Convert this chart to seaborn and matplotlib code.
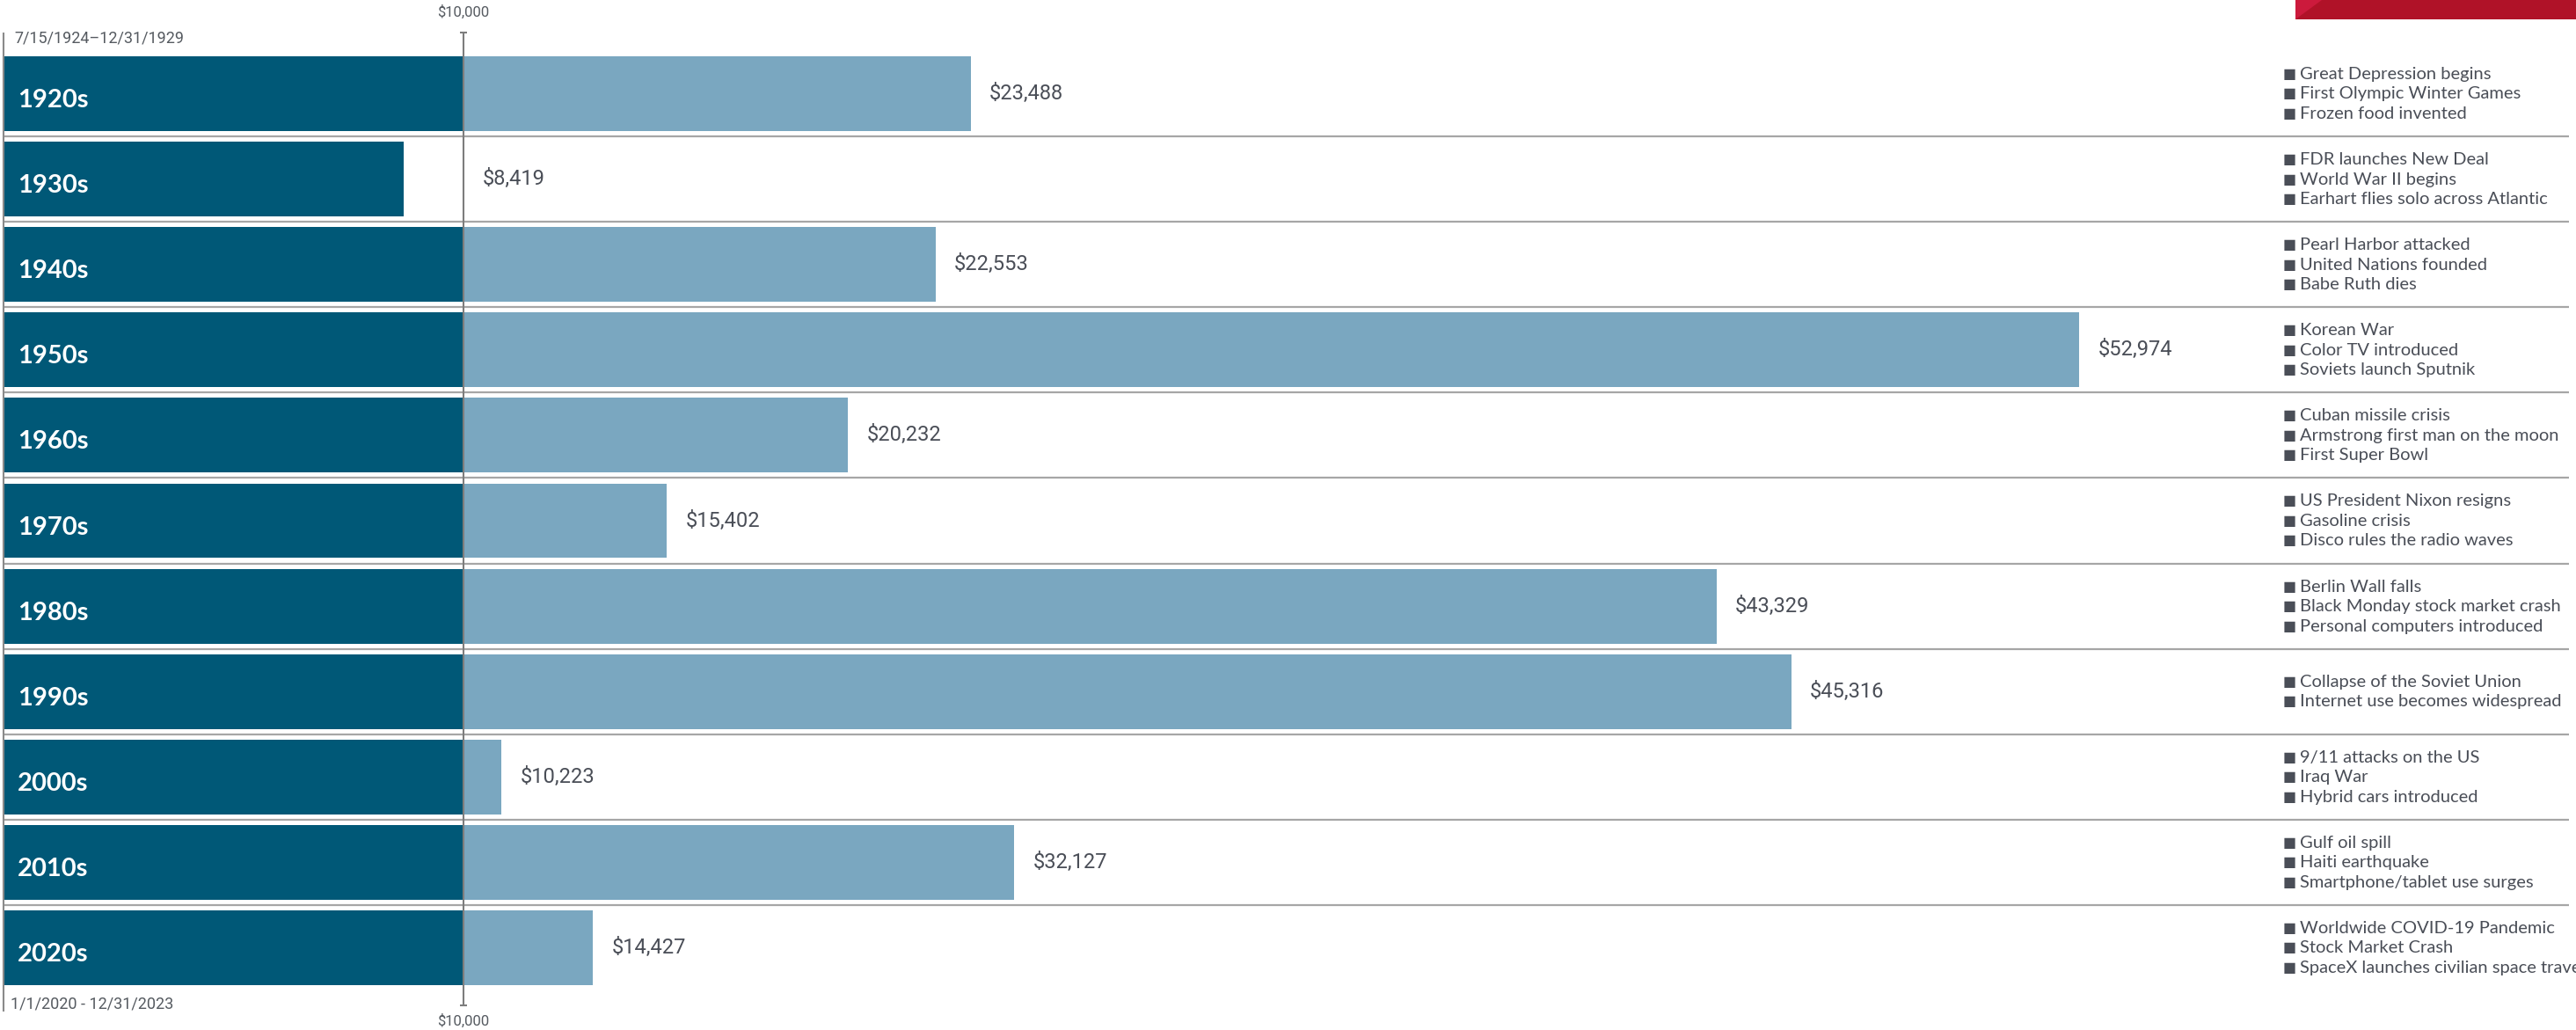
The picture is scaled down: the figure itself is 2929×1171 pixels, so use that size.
import numpy as np
import pandas as pd
import matplotlib
matplotlib.use("Agg")
import matplotlib.pyplot as plt
import seaborn as sns
from matplotlib.patches import Polygon

# ---------------- data ----------------
decades = ["1920s", "1930s", "1940s", "1950s", "1960s", "1970s",
           "1980s", "1990s", "2000s", "2010s", "2020s"]
# ending value of $10,000 invested at the start of each decade (printed labels)
ending_values = [23488, 8419, 22553, 52974, 20232, 15402,
                 43329, 45316, 10223, 32127, 14427]
# length each bar is drawn to in the reference (its last three bars are not to scale)
bar_values = [23488, 8419, 22553, 52974, 20232, 15402,
              43329, 45316, 11000, 24650, 13450]
start_amount = 10000
start_label = "$10,000"
period_first = "7/15/1924\u201312/31/1929"
period_last = "1/1/2020 - 12/31/2023"
events = [
    ["Great Depression begins", "First Olympic Winter Games", "Frozen food invented"],
    ["FDR launches New Deal", "World War II begins", "Earhart flies solo across Atlantic"],
    ["Pearl Harbor attacked", "United Nations founded", "Babe Ruth dies"],
    ["Korean War", "Color TV introduced", "Soviets launch Sputnik"],
    ["Cuban missile crisis", "Armstrong first man on the moon", "First Super Bowl"],
    ["US President Nixon resigns", "Gasoline crisis", "Disco rules the radio waves"],
    ["Berlin Wall falls", "Black Monday stock market crash", "Personal computers introduced"],
    ["Collapse of the Soviet Union", "Internet use becomes widespread"],
    ["9/11 attacks on the US", "Iraq War", "Hybrid cars introduced"],
    ["Gulf oil spill", "Haiti earthquake", "Smartphone/tablet use surges"],
    ["Worldwide COVID-19 Pandemic", "Stock Market Crash", "SpaceX launches civilian space travel"],
]

# ---------------- layout ----------------
W, H = 2929, 1171
DARK = "#005877"
LIGHT = "#7aa7c0"
TXT = "#4a4e57"
GRID = "#a6a6a6"

px_per_dollar = 0.042747          # horizontal scale
x_left_px = 3                     # where the bars start
ref_px = 527                      # pixel of the $10,000 line
base = start_amount - (ref_px - x_left_px) / px_per_dollar   # value at bar start

row0_px = 106.5                   # centre of the first row
row_pitch = 97.1

def px_to_u(px):
    return (px - x_left_px) / px_per_dollar

def py_to_y(py):
    return (py - row0_px) / row_pitch

df = pd.DataFrame({
    "decade": decades,
    "light": np.array(bar_values) - base,
    "dark": np.minimum(np.array(bar_values), start_amount) - base,
})

sns.set_theme(style="white")
plt.rcParams["font.family"] = ["Lato", "DejaVu Sans"]

fig = plt.figure(figsize=(W / 100, H / 100), dpi=100)
ax = fig.add_axes([0, 0, 1, 1])

sns.barplot(data=df, x="light", y="decade", orient="h", color=LIGHT,
            saturation=1, width=0.875, linewidth=0, ax=ax, zorder=2)
sns.barplot(data=df, x="dark", y="decade", orient="h", color=DARK,
            saturation=1, width=0.875, linewidth=0, ax=ax, zorder=3)

ax.set_xlim(px_to_u(0), px_to_u(W))
ax.set_ylim(py_to_y(H), py_to_y(0))
ax.axis("off")

u_ref = start_amount - base
n = len(decades)

# row separators
ax.hlines([k + 0.5 for k in range(n - 1)], px_to_u(3), px_to_u(2921),
          colors=GRID, linewidth=1.6, zorder=1)

# left rule
ax.vlines(px_to_u(3.5), py_to_y(37), py_to_y(1150), colors="#8a8a8a",
          linewidth=1.5, zorder=4)
# $10,000 reference line with end caps
y_top, y_bot = py_to_y(37.5), py_to_y(1143)
ax.vlines(u_ref, y_top, y_bot, colors="#7d7d7d", linewidth=1.5, zorder=5)
ax.plot([u_ref, u_ref], [y_top, y_bot], linestyle="none", marker="_",
        markersize=6, markeredgewidth=1.5, color="#7d7d7d", zorder=5)
ax.text(u_ref, py_to_y(14), start_label, ha="center", va="center",
        fontsize=12, family=["Roboto", "DejaVu Sans"], color="#555a60")
ax.text(u_ref, py_to_y(1161), start_label, ha="center", va="center",
        fontsize=12, family=["Roboto", "DejaVu Sans"], color="#555a60")

# period notes
ax.text(px_to_u(16), py_to_y(44), period_first, ha="left", va="center",
        fontsize=13, family=["Roboto", "DejaVu Sans"], color="#555a60")
ax.text(px_to_u(12), py_to_y(1142), period_last, ha="left", va="center",
        fontsize=13, family=["Roboto", "DejaVu Sans"], color="#555a60")

line_gap = 22.5 / row_pitch
for k in range(n):
    # decade label
    ax.text(px_to_u(20), k + 0.16, decades[k], ha="left", va="baseline",
            fontsize=21, fontweight="bold", color="white", zorder=6,
            family=["Lato", "DejaVu Sans"])
    # value label
    ax.annotate(f"${ending_values[k]:,}",
                xy=(max(bar_values[k], start_amount) - base, k),
                xytext=(15.5, 0), textcoords="offset points",
                ha="left", va="center", fontsize=17,
                family=["Roboto", "DejaVu Sans"], color=TXT, zorder=6)
    # events
    evs = events[k]
    m = len(evs)
    for j, ev in enumerate(evs):
        yy = k + 0.005 + (j - (m - 1) / 2) * line_gap
        ax.text(px_to_u(2596), yy, "\u25A0", ha="left", va="center",
                fontsize=11.5, family=["DejaVu Sans"], color=TXT, zorder=6)
        ax.text(px_to_u(2615), yy, ev, ha="left", va="center", fontsize=14.5,
                family=["Lato", "DejaVu Sans"], color=TXT, zorder=6)

# red corner band (decoration)
fig.patches.append(Polygon([(2610 / W, 1), (1, 1), (1, 1 - 22 / H), (2610 / W, 1 - 22 / H)],
                           closed=True, transform=fig.transFigure, facecolor="#b01228",
                           edgecolor="none", zorder=0))
fig.patches.append(Polygon([(2610 / W, 1), (2640 / W, 1), (2610 / W, 1 - 22 / H)],
                           closed=True, transform=fig.transFigure, facecolor="#cc1a3c",
                           edgecolor="none", zorder=1))

fig.savefig("out.png", dpi=100, facecolor="white")
